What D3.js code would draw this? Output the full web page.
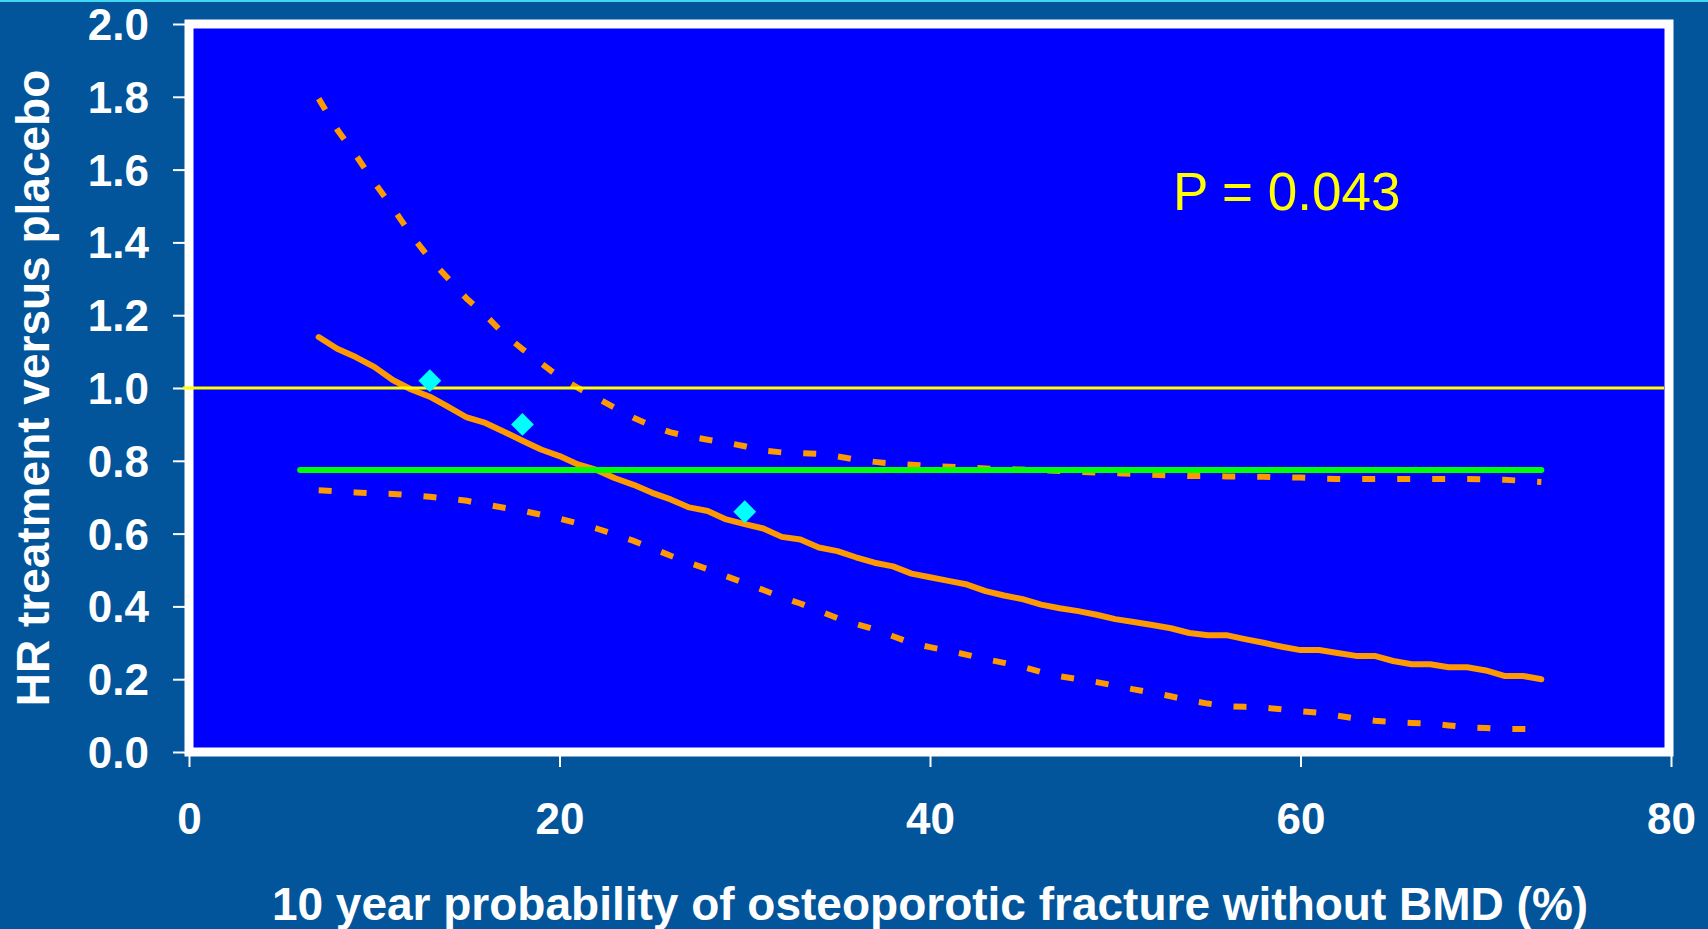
<!DOCTYPE html>
<html>
<head>
<meta charset="utf-8">
<script src="https://cdn.jsdelivr.net/npm/d3@7"></script>
<style>
  html, body { margin: 0; padding: 0; background: #02559a; overflow: hidden; }
  text { font-family: "Liberation Sans", Arial, sans-serif; }
</style>
</head>
<body>
<div id="chart"></div>
<script>
// 10-year probability (%) at which the curves are evaluated
const probX = [7, 8, 9, 10, 11, 12, 13, 14, 15, 16, 17, 18, 19, 20, 21, 22, 23, 24, 25, 26,
  27, 28, 29, 30, 31, 32, 33, 34, 35, 36, 37, 38, 39, 40, 41, 42, 43, 44, 45, 46,
  47, 48, 49, 50, 51, 52, 53, 54, 55, 56, 57, 58, 59, 60, 61, 62, 63, 64, 65, 66,
  67, 68, 69, 70, 71, 72, 73];

// fitted hazard ratio
const hrFit = [1.14, 1.108, 1.085, 1.058, 1.022, 0.996, 0.976, 0.948, 0.919, 0.904,
  0.88, 0.855, 0.831, 0.813, 0.79, 0.775, 0.752, 0.734, 0.712, 0.694,
  0.672, 0.662, 0.639, 0.626, 0.614, 0.591, 0.584, 0.562, 0.552, 0.535,
  0.52, 0.51, 0.49, 0.48, 0.47, 0.46, 0.442, 0.43, 0.42, 0.405,
  0.395, 0.387, 0.377, 0.365, 0.357, 0.349, 0.34, 0.327, 0.321, 0.321,
  0.31, 0.3, 0.289, 0.28, 0.28, 0.272, 0.264, 0.264, 0.25, 0.241,
  0.241, 0.233, 0.233, 0.224, 0.209, 0.209, 0.2];

// upper and lower 95% limits
const hrUpper = [1.795, 1.71, 1.64, 1.565, 1.495, 1.42, 1.355, 1.3, 1.245, 1.2,
  1.148, 1.107, 1.068, 1.03, 1.0, 0.973, 0.945, 0.918, 0.896, 0.878,
  0.867, 0.858, 0.85, 0.84, 0.828, 0.823, 0.821, 0.819, 0.812, 0.803,
  0.797, 0.792, 0.789, 0.786, 0.784, 0.781, 0.779, 0.777, 0.776, 0.774,
  0.772, 0.77, 0.768, 0.766, 0.764, 0.762, 0.76, 0.758, 0.758, 0.757,
  0.757, 0.756, 0.755, 0.754, 0.751, 0.75, 0.75, 0.75, 0.75, 0.75,
  0.75, 0.75, 0.75, 0.749, 0.748, 0.745, 0.742];

const hrLower = [0.719, 0.716, 0.713, 0.711, 0.709, 0.705, 0.701, 0.696, 0.69, 0.68,
  0.671, 0.663, 0.652, 0.641, 0.628, 0.614, 0.597, 0.58, 0.56, 0.539,
  0.52, 0.502, 0.483, 0.464, 0.445, 0.425, 0.408, 0.388, 0.368, 0.352,
  0.337, 0.318, 0.299, 0.288, 0.278, 0.267, 0.255, 0.245, 0.234, 0.22,
  0.208, 0.2, 0.192, 0.182, 0.172, 0.163, 0.153, 0.142, 0.133, 0.126,
  0.124, 0.122, 0.117, 0.112, 0.108, 0.1, 0.092, 0.086, 0.082, 0.08,
  0.078, 0.073, 0.068, 0.066, 0.063, 0.063, 0.063];

// observed points (diamonds)
const obsX = [13, 18, 30];
const obsHR = [1.02, 0.90, 0.66];

// overall HR (green) and no-effect line (yellow)
const meanX = [6, 73];
const meanHR = [0.775, 0.775];
const refHR = 1.0;

const xTicks = [0, 20, 40, 60, 80];
const yTicks = [0, 0.2, 0.4, 0.6, 0.8, 1.0, 1.2, 1.4, 1.6, 1.8, 2.0];

const pLabel = "P = 0.043";
const xTitle = "10 year probability of osteoporotic fracture without BMD (%)";
const yTitle = "HR treatment versus placebo";

let width = 1708, height = 929;

let svg = d3.select('#chart').append('svg')
  .attr('width', width)
  .attr('height', height);

svg.append('rect')
  .attr('width', width).attr('height', height)
  .attr('fill', '#02559a');
// thin light line at the top edge
svg.append('rect')
  .attr('width', width).attr('height', 2)
  .attr('fill', '#3fd8f0');

let x = d3.scaleLinear().domain([0, 80]).range([189, 1671]);
let y = d3.scaleLinear().domain([0, 2]).range([752, 24]);

// plot area
svg.append('rect')
  .attr('x', x(0)).attr('y', y(2))
  .attr('width', x(80) - x(0) - 2).attr('height', y(0) - y(2))
  .attr('fill', '#0000ff');

// axes
let yAxis = svg.append('g')
  .attr('transform', 'translate(' + x(0) + ',0)')
  .call(d3.axisLeft(y).tickValues(yTicks).tickFormat(d3.format('.1f'))
    .tickSize(16).tickPadding(24));
let xAxis = svg.append('g')
  .attr('transform', 'translate(0,' + y(0) + ')')
  .call(d3.axisBottom(x).tickValues(xTicks).tickSize(15).tickPadding(36));

[xAxis, yAxis].forEach(function(ax) {
  ax.select('.domain').remove();
  ax.selectAll('line').attr('stroke', '#ffffff').attr('stroke-width', 2);
  ax.selectAll('text')
    .attr('fill', '#ffffff')
    .style('font-size', '44px')
    .style('font-weight', 'bold');
});
yAxis.selectAll('text').attr('dy', '0.35em');

let line = d3.line()
  .x(function(d) { return x(d[0]); })
  .y(function(d) { return y(d[1]); });

// confidence limits, dashed
[hrUpper, hrLower].forEach(function(series) {
  svg.append('path')
    .datum(probX.map(function(v, i) { return [v, series[i]]; }))
    .attr('d', line)
    .attr('fill', 'none')
    .attr('stroke', '#ff9900')
    .attr('stroke-width', 6)
    .attr('stroke-dasharray', '13,22');
});

// fitted HR
svg.append('path')
  .datum(probX.map(function(v, i) { return [v, hrFit[i]]; }))
  .attr('d', line)
  .attr('fill', 'none')
  .attr('stroke', '#ff9900')
  .attr('stroke-width', 6)
  .attr('stroke-linecap', 'round')
  .attr('stroke-linejoin', 'round');

// overall HR
svg.append('path')
  .datum(meanX.map(function(v, i) { return [v, meanHR[i]]; }))
  .attr('d', line)
  .attr('fill', 'none')
  .attr('stroke', '#00ff00')
  .attr('stroke-width', 6)
  .attr('stroke-linecap', 'round');

// frame
svg.append('rect')
  .attr('x', x(0)).attr('y', y(2))
  .attr('width', x(80) - x(0) - 2).attr('height', y(0) - y(2))
  .attr('fill', 'none')
  .attr('stroke', '#ffffff')
  .attr('stroke-width', 9);

// HR = 1
svg.append('line')
  .attr('x1', x(0) - 6).attr('x2', x(80) - 7)
  .attr('y1', y(refHR)).attr('y2', y(refHR))
  .attr('stroke', '#ffff00')
  .attr('stroke-width', 3);

// observed points
svg.selectAll('path.obs')
  .data(obsX.map(function(v, i) { return [v, obsHR[i]]; }))
  .enter().append('path')
  .attr('class', 'obs')
  .attr('d', d3.symbol().type(d3.symbolSquare).size(260))
  .attr('transform', function(d) {
    return 'translate(' + x(d[0]) + ',' + y(d[1]) + ') rotate(45)';
  })
  .attr('fill', '#00ffff');

svg.append('text')
  .attr('x', 1173).attr('y', 210)
  .attr('fill', '#ffff00')
  .style('font-size', '53px')
  .text(pLabel);

svg.append('text')
  .attr('x', (x(0) + x(80)) / 2).attr('y', 920)
  .attr('text-anchor', 'middle')
  .attr('fill', '#ffffff')
  .style('font-size', '46px')
  .style('font-weight', 'bold')
  .text(xTitle);

svg.append('text')
  .attr('transform', 'translate(49,' + y(1) + ') rotate(-90)')
  .attr('text-anchor', 'middle')
  .attr('fill', '#ffffff')
  .style('font-size', '46px')
  .style('font-weight', 'bold')
  .text(yTitle);
</script>
</body>
</html>
